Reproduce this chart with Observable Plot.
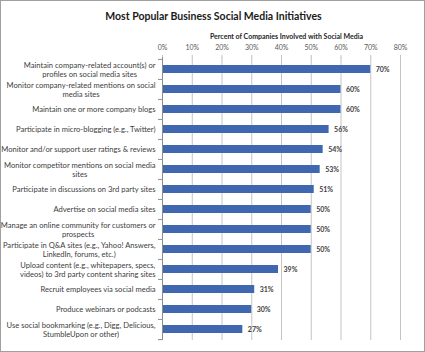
<!DOCTYPE html>
<html>
<head>
<meta charset="utf-8">
<script src="https://cdn.jsdelivr.net/npm/d3@7"></script>
<script src="https://cdn.jsdelivr.net/npm/@observablehq/plot@0.6"></script>
<style>
  html, body { margin: 0; padding: 0; background: #fff; }
  #wrap { position: relative; width: 425px; height: 352px; }
  #border { position: absolute; left: 0; top: 0; width: 423px; height: 350px; border: 1px solid #a0a0a0; pointer-events: none; }
</style>
</head>
<body>
<div id="wrap"><div id="border"></div></div>
<script>
const title = "Most Popular Business Social Media Initiatives";
const axisTitle = "Percent of Companies Involved with Social Media";
const categories = [
  "Maintain company-related account(s) or\nprofiles on social media sites",
  "Monitor company-related mentions on social\nmedia sites",
  "Maintain one or more company blogs",
  "Participate in micro-blogging (e.g., Twitter)",
  "Monitor and/or support user ratings & reviews",
  "Monitor competitor mentions on social media\nsites",
  "Participate in discussions on 3rd party sites",
  "Advertise on social media sites",
  "Manage an online community for customers or\nprospects",
  "Participate in Q&A sites (e.g., Yahoo! Answers,\nLinkedIn, forums, etc.)",
  "Upload content (e.g., whitepapers, specs,\nvideos) to 3rd party content sharing sites",
  "Recruit employees via social media",
  "Produce webinars or podcasts",
  "Use social bookmarking (e.g., Digg, Delicious,\nStumbleUpon or other)"
];
const values = [70, 60, 60, 56, 54, 53, 51, 50, 50, 50, 39, 31, 30, 27];
const xTicks = [0, 10, 20, 30, 40, 50, 60, 70, 80];

const data = categories.map((c, i) => ({category: c, value: values[i]}));

const W = 425, H = 352, mL = 162, mR = 25, mT = 57, mB = 12;
const step = (H - mT - mB) / categories.length;
const font = "Lato, Carlito, 'Liberation Sans Narrow', 'Noto Sans', sans-serif";

const chart = Plot.plot({
  width: W, height: H,
  marginLeft: mL, marginRight: mR, marginTop: mT, marginBottom: mB,
  style: {fontFamily: font, fontSize: "7.6px", background: "#fff", color: "#404040"},
  x: {domain: [0, 80], ticks: xTicks, tickFormat: d => d + "%"},
  y: {domain: categories, paddingInner: 0.6, paddingOuter: 0.3},
  marks: [
    Plot.gridX(xTicks, {stroke: "#c4c4c4", strokeOpacity: 1}),
    Plot.axisX(xTicks, {anchor: "top", tickSize: 3, tickPadding: 5, stroke: "#c4c4c4", fill: "#595959", fontSize: 7, label: null, tickFormat: d => d + "%"}),
    Plot.barX(data, {x: "value", y: "category", fill: "#3f68b0"}),
    Plot.ruleX([0], {stroke: "#8c8c8c"}),
    Plot.ruleY(categories, {y: d => d, dy: -step / 2, insetLeft: -4, insetRight: W - mL - mR, stroke: "#8c8c8c"}),
    Plot.ruleY(categories.slice(-1), {y: d => d, dy: step / 2, insetLeft: -4, insetRight: W - mL - mR, stroke: "#8c8c8c"}),
    Plot.axisY({tickSize: 0, tickPadding: 7, fill: "#404040", label: null, lineHeight: 1.18, fontSize: 7.6}),
    Plot.text(data, {x: "value", y: "category", text: d => d.value + "%", textAnchor: "start", dx: 5, fontWeight: "bold", fill: "#404040", fontSize: 7}),
    Plot.text([title], {frameAnchor: "top", dx: -68, dy: -45, fontSize: 10.5, fontWeight: "bold", fill: "#1a1a1a"}),
    Plot.text([axisTitle], {frameAnchor: "top", dx: 5, dy: -23, fontSize: 7, fontWeight: "bold", fill: "#262626"})
  ]
});

document.getElementById("wrap").prepend(chart);

// center the lines of multi-line category labels within their block (block stays right-aligned)
chart.querySelectorAll('g[aria-label="y-axis tick label"] text').forEach(t => {
  const spans = t.querySelectorAll("tspan");
  if (spans.length > 1) {
    const widths = Array.from(spans, s => s.getComputedTextLength());
    const maxW = Math.max(...widths);
    t.setAttribute("text-anchor", "middle");
    spans.forEach(s => s.setAttribute("x", -maxW / 2));
  }
});
</script>
</body>
</html>
